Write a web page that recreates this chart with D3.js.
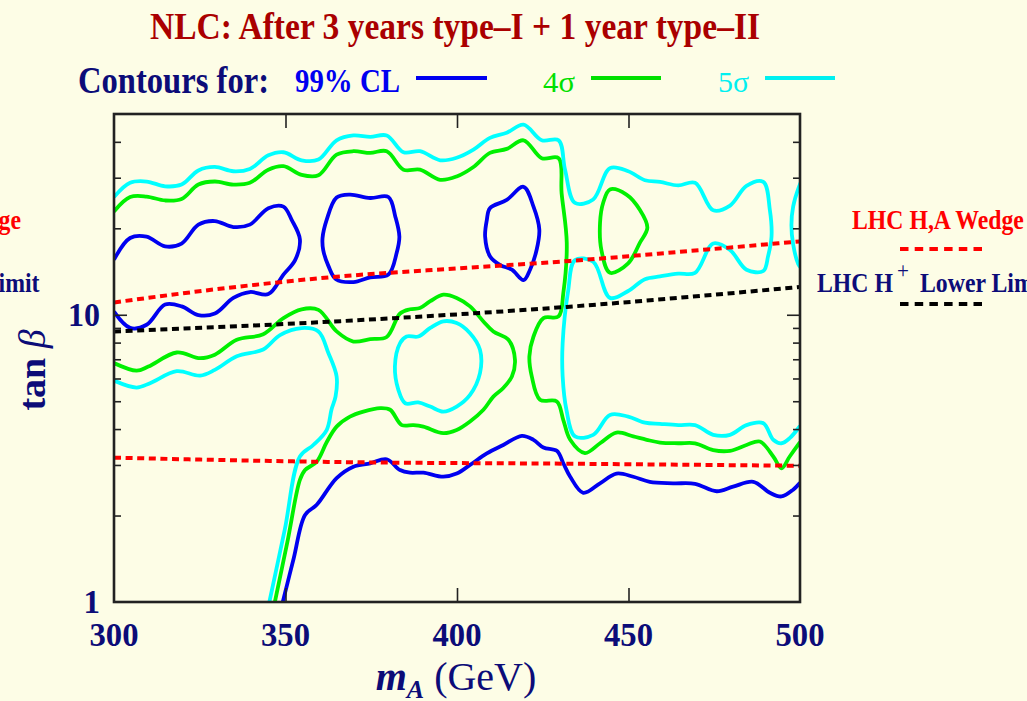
<!DOCTYPE html>
<html>
<head>
<meta charset="utf-8">
<script src="https://cdn.jsdelivr.net/npm/d3@7/dist/d3.min.js"></script>
<style>
  html, body { margin: 0; padding: 0; background: #fdfde6; }
  svg { display: block; }
</style>
</head>
<body>
<svg id="chart" width="1027" height="701"></svg>
<script>
// ---- axis values ----
const xTickValues = [300, 350, 400, 450, 500];
const yTickLabels = [1, 10];
const yMinorTicks = [2, 3, 4, 5, 6, 7, 8, 9, 20, 30, 40];

// ---- contour lines: [m_A (GeV), tan beta] ----
// 99% CL
const cl99Upper = [[300,15.55],[304.7,18.5],[309.5,18.7],[314.9,17.3],[319.7,17.7],[324.6,20.6],[329.4,21.2],[334.8,20.2],[339.6,20.6],[345,23.5],[349.4,23.8],[351.8,21.4],[354.2,18.3],[352.8,15.5],[349.4,13.8],[345,11.8],[339.6,12.0],[334.8,11.45],[329.4,10.1],[324.6,9.98],[319.7,10.7],[314.9,10.85],[309.5,9.23],[304.7,9.0],[300,10.25]];
const cl99IslandA = [[360.8,18.5],[362,21.4],[364.9,25.6],[368.8,26.2],[374.7,25.5],[380,25.7],[382,22],[383.2,18.7],[382.4,16.4],[380,13.8],[374.7,13.5],[369.8,13.0],[364.7,13.3],[362.5,14.8],[361,16.8]];
const cl99IslandB = [[409.6,23.5],[414.5,25.1],[419.4,27.9],[422.3,23.8],[424,19.8],[423.2,16.8],[421.3,14.35],[419.4,13.2],[416,14.35],[412.6,14.9],[409.6,16.0],[408.2,18.7],[408.7,21.4]];
const cl99Lower = [[349.2,1.0],[352.4,1.42],[355.7,2.01],[359.1,2.18],[364.9,2.70],[369.8,2.96],[374.7,3.04],[379.5,3.14],[383.4,2.88],[386.3,2.82],[390.2,2.82],[396,2.73],[399.9,2.80],[403.8,3.00],[408.7,3.29],[413.5,3.52],[418.9,3.79],[422.3,3.67],[425.2,3.45],[429.1,3.36],[431,3.04],[433,2.73],[436.8,2.40],[441.7,2.59],[446.5,2.80],[451.4,2.73],[456.2,2.62],[463,2.59],[469.4,2.58],[475.7,2.43],[480.5,2.52],[486.4,2.62],[491.2,2.40],[494.6,2.33],[498,2.46],[500,2.6]];

// 4 sigma
const sig4Upper = [[300,22.9],[304.7,25.7],[309.5,25.8],[314.9,25.0],[319.7,25.3],[324.6,28.4],[329.4,29.1],[334.8,28.4],[339.6,28.8],[345,32.0],[349.4,32.9],[354.7,30.7],[359.6,30.6],[364.9,36.1],[369.8,37.1],[374.7,36.6],[379.5,37.1],[384.4,32.0],[389.2,32.0],[395.1,29.5],[399.9,30.3],[404.8,32.7],[409.6,36.6],[414.5,37.8],[419.4,40.5],[424.7,35.1],[429.6,35.1],[430.5,26.5],[432,17.8],[431,11.9],[429.6,9.87],[425.2,9.74],[422.3,8.40],[421.1,7.16],[421.8,6.10],[424.2,5.06],[429.1,4.99],[431,4.30],[433,3.67],[437.3,3.30],[441.7,3.57],[446.5,3.89],[451.4,3.77],[455.3,3.67],[459.2,3.59],[464.5,3.57],[469.4,3.57],[474.7,3.38],[479.6,3.36],[484.4,3.52],[488.3,3.62],[492.2,3.21],[494.6,2.92],[497,3.21],[500,3.6]];
const sig4Middle = [[300,6.79],[306.6,6.39],[310,6.6],[318.3,7.39],[325.1,7.06],[329.4,7.26],[335.8,8.18],[343.5,8.55],[349.4,9.74],[354.7,10.45],[359.6,10.4],[364.9,8.75],[369.8,8.07],[374.7,8.23],[379.5,8.37],[383.4,10.1],[386.3,10.45],[389.2,10.55],[392.2,11.15],[396,11.75],[399.9,11.45],[403.8,10.7],[407.7,9.48],[410.6,8.75],[415,8.18],[416.9,6.97],[416,6.10],[413.5,5.56],[410.6,5.19],[407.7,4.67],[403.8,4.25],[399.9,3.97],[396,3.87],[390.2,4.08],[387.3,4.13],[383.9,4.13],[380.5,4.67],[377.6,4.73],[372.7,4.60],[368.8,4.42],[364.9,4.08],[362,3.6],[359.1,3.08],[355.7,2.88],[354.2,2.66],[350.6,1.63],[346.9,1.0]];
const sig4Island = [[444.6,27.3],[449.4,26.2],[453.3,23.2],[455.5,20.1],[453.3,17.8],[449.9,15.1],[444.6,14.0],[442.1,16.8],[441.7,20.9],[442.6,24.5]];

// 5 sigma
const sig5Upper = [[300,25.7],[304.7,28.8],[309.5,29.1],[314.9,28.0],[319.7,28.4],[324.6,31.8],[329.4,32.7],[334.8,31.6],[339.6,32.2],[345,35.9],[349.4,36.8],[354.7,34.5],[359.6,34.7],[364.9,40.5],[369.8,42.1],[374.7,41.6],[379.5,42.1],[384.4,36.8],[389.2,37.1],[395.1,34.5],[399.9,35.2],[404.8,37.6],[409.6,41.3],[414.5,43.0],[419.4,45.9],[424.7,40.5],[429.6,40.5],[431.5,32],[434.4,24.5],[439.7,25.2],[444.6,32.4],[449.9,31.6],[454.8,29.4],[459.2,29.0],[464.5,28.2],[469.4,28.8],[474.7,23.1],[479.6,24.0],[484.4,28.1],[489.3,29.0],[491.2,23.2],[491.7,18.7],[490.7,16.0],[489.3,14.2],[484.4,14.35],[479.6,16.8],[474.7,17.7],[469.4,14.0],[464.5,13.9],[459.2,13.6],[454.8,13.3],[449.9,12.1],[444.6,11.45],[439.7,15.3],[434.4,15.5],[432.4,12.1],[430.8,7.97],[430.8,6.10],[431.9,4.67],[434.4,3.77],[439.7,3.82],[444.6,4.48],[449.9,4.42],[454.8,4.21],[459.2,4.17],[464.5,4.13],[469.4,4.13],[474.7,3.82],[479.6,3.82],[484.4,4.13],[489.3,4.19],[492.2,3.67],[494.6,3.57],[497,3.72],[500,4.1]];
const sig5Middle = [[300,5.9],[306.6,5.58],[310.5,5.78],[318.3,6.36],[325.1,6.14],[329.4,6.43],[335.8,7.17],[343.5,7.57],[348.4,8.5],[354.7,8.99],[359.6,8.75],[362.5,7.36],[364.9,6.10],[364.6,5.2],[363.4,4.67],[362,3.97],[358.1,3.52],[354.2,3.21],[349.8,1.79],[345.3,1.0]];
const sig5Island = [[385.3,8.40],[388.7,8.40],[392.2,9.0],[396,9.49],[399.9,9.36],[403.8,8.63],[406.7,7.55],[406.7,6.26],[403.8,5.26],[399.9,4.79],[396,4.60],[392.2,4.79],[388.7,4.95],[384.9,4.92],[382.9,5.48],[381.9,6.61],[383.4,7.97]];
const sig5EdgeArc = [[500.6,29.5],[499.8,28.1],[498,23.8],[497.5,20.5],[498,17.6],[499.5,15.0],[500.6,14.4]];

// ---- LHC reference lines ----
const wedgeUpper = [[300,11.04],[333,12.4],[366,13.6],[400,14.5],[433,15.4],[466,16.6],[500,18.0]];
const wedgeLower = [[300,3.18],[366,3.07],[432,3.03],[500,2.98]];
const chargedLimit = [[300,8.75],[366,9.5],[432,10.65],[500,12.5]];

// ---- layout ----
const svg = d3.select("#chart");
const plot = { left: 114, right: 800, top: 114, bottom: 602 };
const x = d3.scaleLinear().domain([300, 500]).range([plot.left, plot.right]);
const y = d3.scaleLog().domain([1, 50]).range([plot.bottom, plot.top]);

const navy = "#0c0c78";
const serif = "'Liberation Serif', 'Times New Roman', serif";

svg.append("rect").attr("width", 1027).attr("height", 701).attr("fill", "#fdfde6");

svg.append("defs").append("clipPath").attr("id", "plotClip")
  .append("rect")
  .attr("x", plot.left).attr("y", plot.top)
  .attr("width", plot.right - plot.left).attr("height", plot.bottom - plot.top);

// squeeze a text element horizontally to a given width
function fitWidth(sel, w) {
  sel.attr("textLength", w).attr("lengthAdjust", "spacingAndGlyphs");
}
function squeeze(sel, f) {
  sel.each(function () {
    const n = this.getComputedTextLength();
    d3.select(this).attr("textLength", n * f).attr("lengthAdjust", "spacingAndGlyphs");
  });
}

// ---- contours ----
const open = d3.line().x(d => x(d[0])).y(d => y(d[1])).curve(d3.curveCatmullRom.alpha(0.5));
const closed = d3.line().x(d => x(d[0])).y(d => y(d[1])).curve(d3.curveCatmullRomClosed.alpha(0.5));

const layer = svg.append("g").attr("clip-path", "url(#plotClip)");

const contours = [
  { data: cl99Upper, color: "#0000f0", gen: open },
  { data: cl99IslandA, color: "#0000f0", gen: closed },
  { data: cl99IslandB, color: "#0000f0", gen: closed },
  { data: cl99Lower, color: "#0000f0", gen: open },
  { data: sig4Upper, color: "#00f000", gen: open },
  { data: sig4Middle, color: "#00f000", gen: open },
  { data: sig4Island, color: "#00f000", gen: closed },
  { data: sig5Upper, color: "#00ffff", gen: open },
  { data: sig5Middle, color: "#00ffff", gen: open },
  { data: sig5Island, color: "#00ffff", gen: closed },
  { data: sig5EdgeArc, color: "#00ffff", gen: open }
];

layer.selectAll("path.contour")
  .data(contours)
  .join("path")
  .attr("class", "contour")
  .attr("d", d => d.gen(d.data))
  .attr("fill", "none")
  .attr("stroke", d => d.color)
  .attr("stroke-width", 3.8)
  .attr("stroke-linejoin", "round");

// ---- LHC dotted lines ----
const smooth = d3.line().x(d => x(d[0])).y(d => y(d[1])).curve(d3.curveMonotoneX);
const refLines = [
  { data: wedgeUpper, color: "#ff0000" },
  { data: wedgeLower, color: "#ff0000" },
  { data: chargedLimit, color: "#000000" }
];
layer.selectAll("path.ref")
  .data(refLines)
  .join("path")
  .attr("class", "ref")
  .attr("d", d => smooth(d.data))
  .attr("fill", "none")
  .attr("stroke", d => d.color)
  .attr("stroke-width", 4)
  .attr("stroke-dasharray", "7,4.6");

// ---- frame and ticks ----
function ticks(axisGen, tx, ty) {
  const g = svg.append("g").attr("transform", `translate(${tx},${ty})`).call(axisGen);
  g.select(".domain").remove();
  g.selectAll(".tick line").attr("stroke", "#222").attr("stroke-width", 1.6);
  return g;
}
const xInner = [350, 400, 450];
ticks(d3.axisBottom(x).tickValues(xInner).tickSize(-14).tickFormat(""), 0, plot.bottom);
ticks(d3.axisTop(x).tickValues(xInner).tickSize(-14).tickFormat(""), 0, plot.top);
ticks(d3.axisLeft(y).tickValues(yMinorTicks).tickSize(-7).tickFormat(""), plot.left, 0);
ticks(d3.axisRight(y).tickValues(yMinorTicks).tickSize(-7).tickFormat(""), plot.right, 0);
ticks(d3.axisLeft(y).tickValues([10]).tickSize(-13).tickFormat(""), plot.left, 0);
ticks(d3.axisRight(y).tickValues([10]).tickSize(-13).tickFormat(""), plot.right, 0);

svg.append("rect")
  .attr("x", plot.left).attr("y", plot.top)
  .attr("width", plot.right - plot.left).attr("height", plot.bottom - plot.top)
  .attr("fill", "none").attr("stroke", "#222").attr("stroke-width", 2.6);

// ---- tick labels ----
svg.append("g").selectAll("text")
  .data(xTickValues)
  .join("text")
  .attr("x", d => x(d))
  .attr("y", 646)
  .attr("text-anchor", "middle")
  .attr("font-family", serif)
  .attr("font-size", 33)
  .attr("font-weight", "bold")
  .attr("fill", navy)
  .text(d => d)
  .call(fitWidth, 49);

svg.append("g").selectAll("text")
  .data(yTickLabels)
  .join("text")
  .attr("x", 100)
  .attr("y", d => y(d) + 11)
  .attr("text-anchor", "end")
  .attr("font-family", serif)
  .attr("font-size", 33)
  .attr("font-weight", "bold")
  .attr("fill", navy)
  .text(d => d)
  .each(function (d) { if (d >= 10) d3.select(this).call(fitWidth, 32); });

// ---- axis titles ----
const xTitle = svg.append("text")
  .attr("x", 456).attr("y", 690)
  .attr("text-anchor", "middle")
  .attr("font-family", serif)
  .attr("font-size", 40)
  .attr("fill", navy);
xTitle.append("tspan").attr("font-style", "italic").attr("font-weight", "bold").text("m");
xTitle.append("tspan").attr("font-style", "italic").attr("font-weight", "bold").attr("font-size", 26).attr("dy", 8).text("A");
xTitle.append("tspan").attr("dy", -8).text("\u00a0(GeV)");

const yTitle = svg.append("text")
  .attr("transform", "translate(45,370) rotate(-90)")
  .attr("text-anchor", "middle")
  .attr("font-family", serif)
  .attr("font-size", 38)
  .attr("font-weight", "bold")
  .attr("fill", navy);
yTitle.append("tspan").text("tan\u00a0");
yTitle.append("tspan").attr("font-style", "italic").attr("font-weight", "normal").text("\u03b2");

// ---- title and legend ----
svg.append("text")
  .attr("x", 150).attr("y", 39)
  .attr("font-family", serif).attr("font-size", 38).attr("font-weight", "bold")
  .attr("fill", "#aa0000")
  .text("NLC: After 3 years type\u2013I + 1 year type\u2013II")
  .call(fitWidth, 610);

svg.append("text")
  .attr("x", 78).attr("y", 93)
  .attr("font-family", serif).attr("font-size", 38).attr("font-weight", "bold")
  .attr("fill", navy)
  .text("Contours for:")
  .call(fitWidth, 191);

const legendItems = [
  { label: "99% CL", color: "#0000f0", weight: "bold", size: 34, tx: 295, tw: 105, x0: 416, x1: 487 },
  { label: "4\u03c3", color: "#00e000", weight: "normal", size: 30, tx: 543, tw: 32, x0: 591, x1: 661 },
  { label: "5\u03c3", color: "#00f0f0", weight: "normal", size: 30, tx: 718, tw: 31, x0: 765, x1: 835 }
];
const leg = svg.append("g");
leg.selectAll("text")
  .data(legendItems)
  .join("text")
  .attr("x", d => d.tx).attr("y", 92)
  .attr("font-family", serif)
  .attr("font-size", d => d.size)
  .attr("font-weight", d => d.weight)
  .attr("fill", d => d.color)
  .text(d => d.label)
  .each(function (d) { d3.select(this).call(fitWidth, d.tw); });
leg.selectAll("line")
  .data(legendItems)
  .join("line")
  .attr("x1", d => d.x0).attr("x2", d => d.x1)
  .attr("y1", 78).attr("y2", 78)
  .attr("stroke", d => d.color).attr("stroke-width", 4);

// LHC line keys (repeated at both sides of the panel)
function wedgeKey(anchorX, anchor) {
  const t = svg.append("text")
    .attr("x", anchorX).attr("y", 229)
    .attr("text-anchor", anchor)
    .attr("font-family", serif).attr("font-size", 27).attr("font-weight", "bold")
    .attr("fill", "#ff0000")
    .text("LHC H,A Wedge");
  squeeze(t, 0.88);
}
wedgeKey(852, "start");
wedgeKey(21, "end");

const lim = svg.append("text")
  .attr("y", 292)
  .attr("font-family", serif).attr("font-size", 27).attr("font-weight", "bold")
  .attr("fill", navy);
lim.append("tspan").attr("x", 817).text("LHC H");
lim.append("tspan").attr("x", 897).attr("dy", -14).attr("font-weight", "normal").attr("font-size", 24).text("+");
lim.append("tspan").attr("x", 920).attr("dy", 14).text("Lower Limit");
lim.selectAll("tspan").each(function () {
  const n = this.getComputedTextLength();
  d3.select(this).attr("textLength", n * 0.88).attr("lengthAdjust", "spacingAndGlyphs");
});

const limLeft = svg.append("text")
  .attr("x", 39.5).attr("y", 292)
  .attr("text-anchor", "end")
  .attr("font-family", serif).attr("font-size", 27).attr("font-weight", "bold")
  .attr("fill", navy)
  .text("Lower Limit");
squeeze(limLeft, 0.88);

const keyLines = [
  { color: "#ff0000", y: 249 },
  { color: "#000000", y: 304 }
];
svg.append("g").selectAll("line")
  .data(keyLines)
  .join("line")
  .attr("x1", 900).attr("x2", 982)
  .attr("y1", d => d.y).attr("y2", d => d.y)
  .attr("stroke", d => d.color).attr("stroke-width", 4)
  .attr("stroke-dasharray", "8.5,6.2");
</script>
</body>
</html>
